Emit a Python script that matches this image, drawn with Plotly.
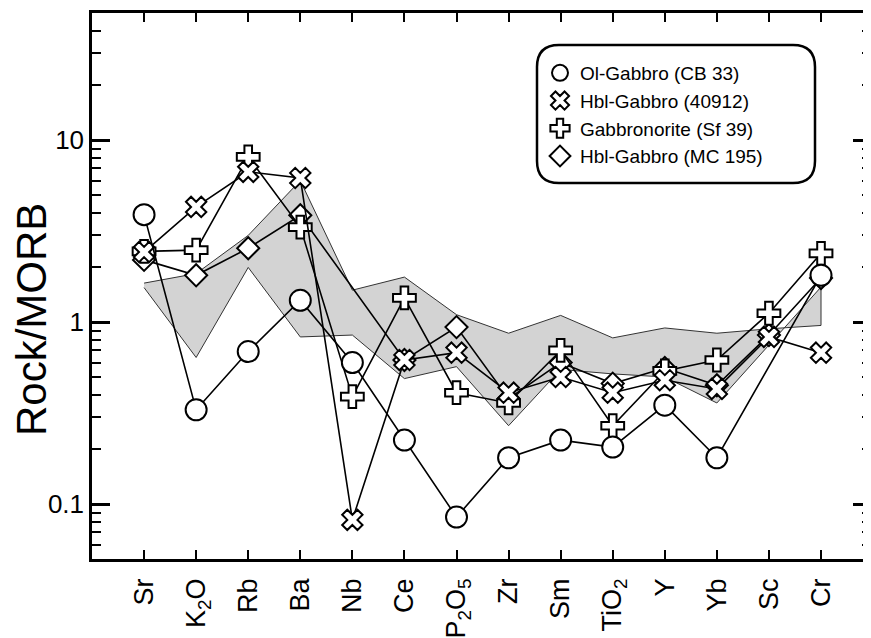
import plotly.graph_objects as go
import math

categories = ["Sr", "K2O", "Rb", "Ba", "Nb", "Ce", "P2O5", "Zr", "Sm", "TiO2", "Y", "Yb", "Sc", "Cr"]
tick_labels = ["Sr", "K<sub>2</sub>O", "Rb", "Ba", "Nb", "Ce", "P<sub>2</sub>O<sub>5</sub>", "Zr",
               "Sm", "TiO<sub>2</sub>", "Y", "Yb", "Sc", "Cr"]

ol_gabbro_cb33 = [3.9, 0.33, 0.69, 1.32, 0.60, 0.225, 0.085, 0.18, 0.225, 0.206, 0.35, 0.18, None, 1.81]
hbl_gabbro_40912 = [2.43, 4.3, 6.7, 6.2, 0.082, 0.62, 0.68, 0.41, 0.50, 0.41, 0.48, 0.43, 0.83, 0.68]
gabbronorite_sf39 = [2.45, 2.49, 8.1, 3.33, 0.39, 1.36, 0.41, 0.36, 0.70, 0.27, 0.54, 0.62, 1.12, 2.39]
hbl_gabbro_mc195 = [2.2, 1.81, 2.55, 3.87, None, 0.62, 0.94, 0.38, 0.60, 0.46, 0.56, 0.45, 0.85, 1.75]

field_upper = [1.64, 1.85, 3.0, 6.0, 1.5, 1.77, 1.1, 0.87, 1.09, 0.82, 0.93, 0.87, 0.92, 0.96]
field_lower = [1.55, 0.64, 2.0, 0.83, 0.85, 0.49, 0.57, 0.27, 0.55, 0.52, 0.50, 0.36, 0.75, 1.56]

y_major = [0.1, 1, 10]
y_major_text = ["0.1", "1", "10"]
y_minor = [0.06, 0.07, 0.08, 0.09, 0.2, 0.3, 0.4, 0.5, 0.6, 0.7, 0.8, 0.9,
           2, 3, 4, 5, 6, 7, 8, 9, 20, 30, 40]

FONT = "Arial, Liberation Sans, sans-serif"

# page body has an 8px margin: work in figure pixels = screen pixels - 8
W, H = 863, 630
L, T = 84, 5
PW, PH = 779, 546
B = H - T - PH


def px(xs):
    return (xs - 8 - L) / PW


def py(ys):
    return (T + PH - (ys - 8)) / PH


fig = go.Figure()

# shaded field
fig.add_trace(go.Scatter(
    x=categories + categories[::-1],
    y=field_upper + field_lower[::-1],
    mode="lines", fill="toself", fillcolor="#d3d3d3",
    line=dict(color="#333333", width=1), showlegend=False, hoverinfo="skip"))

series = [
    ("Hbl-Gabbro (MC 195)", hbl_gabbro_mc195, "diamond", 17),
    ("Gabbronorite (Sf 39)", gabbronorite_sf39, "cross", 19),
    ("Hbl-Gabbro (40912)", hbl_gabbro_40912, "x", 18),
    ("Ol-Gabbro (CB 33)", ol_gabbro_cb33, "circle", 21),
]
for name, vals, sym, size in series:
    fig.add_trace(go.Scatter(
        x=categories, y=vals, mode="lines+markers", name=name, connectgaps=True,
        line=dict(color="black", width=1.6),
        marker=dict(symbol=sym, size=size, color="white", line=dict(color="black", width=2)),
        showlegend=False))

# legend entries (marker only)
for name, vals, sym, size in series[::-1]:
    fig.add_trace(go.Scatter(
        x=[None], y=[None], mode="markers", name=name,
        marker=dict(symbol=sym, size=17, color="white", line=dict(color="black", width=2))))

# rounded legend box
x0, x1 = px(537), px(815)
yb, yt = py(183), py(45)
rx, ry = 22 / PW, 22 / PH
path = (f"M {x0+rx},{yt} L {x1-rx},{yt} Q {x1},{yt} {x1},{yt-ry} L {x1},{yb+ry} "
        f"Q {x1},{yb} {x1-rx},{yb} L {x0+rx},{yb} Q {x0},{yb} {x0},{yb+ry} "
        f"L {x0},{yt-ry} Q {x0},{yt} {x0+rx},{yt} Z")
fig.add_shape(type="path", path=path, xref="paper", yref="paper",
              line=dict(color="black", width=2.5), fillcolor="white", layer="below")

fig.add_annotation(text="Rock/MORB", xref="paper", yref="paper", x=px(31), y=py(320),
                   textangle=-90, showarrow=False, xanchor="center", yanchor="middle",
                   font=dict(size=42, family=FONT, color="black"))

fig.update_layout(
    width=W, height=H,
    margin=dict(l=L, r=W - L - PW, t=T, b=B, autoexpand=False),
    paper_bgcolor="white", plot_bgcolor="white",
    font=dict(family=FONT, color="black"),
    legend=dict(x=px(540), y=py(54), xanchor="left", yanchor="top",
                bgcolor="rgba(0,0,0,0)", borderwidth=0,
                font=dict(size=19, family=FONT), traceorder="normal", itemwidth=30),
)

fig.update_xaxes(
    type="category", categoryorder="array", categoryarray=categories,
    range=[-1.0, 13.96], tickvals=categories, ticktext=tick_labels,
    tickangle=-90, tickfont=dict(size=27, family=FONT),
    ticks="inside", ticklen=9, tickwidth=1.5, tickcolor="black",
    showline=True, linecolor="black", linewidth=2.5, mirror="ticks",
    showgrid=False, zeroline=False, ticklabelstandoff=6, automargin=False)

fig.update_yaxes(
    type="log", range=[math.log10(0.05), math.log10(50)],
    tickvals=y_major, ticktext=y_major_text, tickfont=dict(size=26, family=FONT),
    ticks="inside", ticklen=18, tickwidth=2.5, tickcolor="black",
    minor=dict(tickmode="array", tickvals=y_minor, ticks="inside", ticklen=9,
               tickwidth=2, tickcolor="black", showgrid=False),
    showline=True, linecolor="black", linewidth=2.5, mirror="ticks",
    showgrid=False, zeroline=False, automargin=False)

fig.write_html("out.html")
